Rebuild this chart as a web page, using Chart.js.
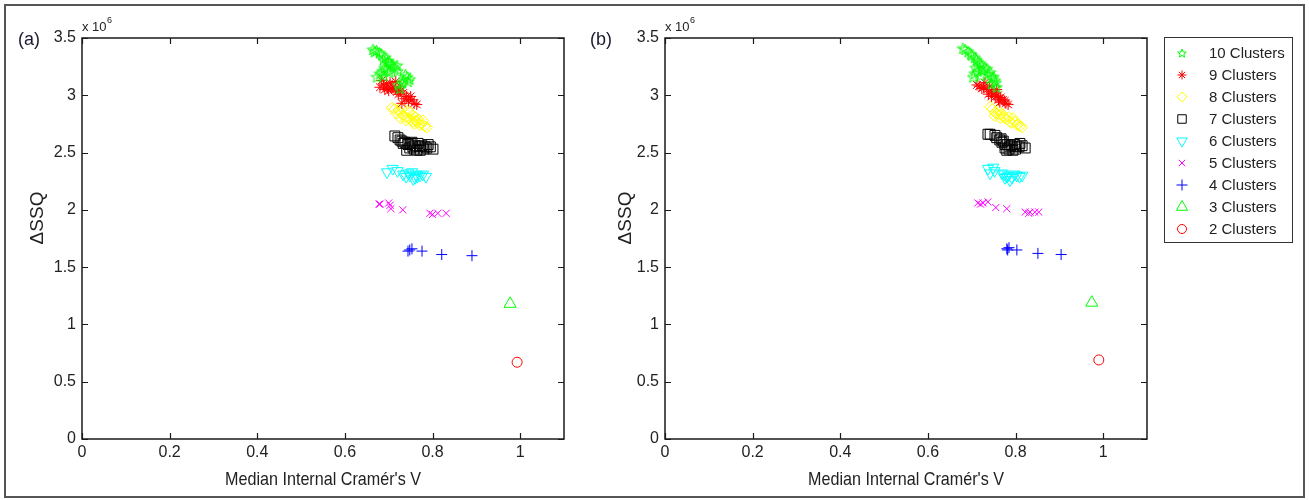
<!DOCTYPE html>
<html>
<head>
<meta charset="utf-8">
<title>Delta SSQ vs Median Internal Cramér's V</title>
<script src="https://cdn.jsdelivr.net/npm/chart.js@4.4.0/dist/chart.umd.min.js"></script>
<style>
  html, body { margin: 0; padding: 0; background: #fff; }
  #wrap { position: relative; width: 1309px; height: 500px; }
  #wrap canvas { position: absolute; left: 0; top: 0; }
</style>
</head>
<body>
<div id="wrap">
  <canvas id="chartA" width="1309" height="500"></canvas>
  <canvas id="chartB" width="1309" height="500"></canvas>
</div>
<script>
// ---- data: [median internal Cramer's V, delta SSQ (x 10^6)] ----
const clusterLabels = ['10 Clusters', '9 Clusters', '8 Clusters', '7 Clusters', '6 Clusters',
                       '5 Clusters', '4 Clusters', '3 Clusters', '2 Clusters']
const clusterColors = ['#00ff00', '#ff0000', '#ffff00', '#000000', '#00ffff',
                       '#ff00ff', '#0000ff', '#00ff00', '#ff0000']

const xTicks = [0, 0.2, 0.4, 0.6, 0.8, 1]
const yTicks = [0, 0.5, 1, 1.5, 2, 2.5, 3, 3.5]

// panel (a)
const a10 = [[0.664,3.40],[0.672,3.39],[0.685,3.35],[0.688,3.31],[0.697,3.29],[0.703,3.28],[0.71,3.25],
             [0.719,3.26],[0.696,3.22],[0.68,3.19],[0.673,3.16],[0.742,3.16],[0.744,3.12],[0.726,3.06],
             [0.735,3.14],[0.69,3.24],[0.668,3.38],[0.679,3.37],[0.692,3.33],[0.700,3.30],[0.707,3.27],
             [0.714,3.23],[0.72,3.21],[0.701,3.20],[0.688,3.17],[0.685,3.21],[0.738,3.18],[0.748,3.14],
             [0.731,3.11],[0.722,3.09]]
const a9 = [[0.68,3.07],[0.691,3.05],[0.684,3.13],[0.703,3.11],[0.71,3.07],[0.719,3.03],[0.733,3.02],
            [0.741,2.99],[0.73,2.93],[0.753,2.96],[0.764,2.92],[0.70,3.04],[0.725,3.08],[0.688,3.09],
            [0.695,3.10],[0.707,3.06],[0.715,3.05],[0.722,3.01],[0.737,2.97],[0.745,2.95],[0.75,2.99],
            [0.758,2.93],[0.727,3.04],[0.697,3.06],[0.716,3.12]]
const a8 = [[0.707,2.89],[0.722,2.87],[0.73,2.89],[0.733,2.83],[0.744,2.80],[0.756,2.77],[0.76,2.81],
            [0.771,2.74],[0.778,2.78],[0.787,2.72],[0.748,2.85],[0.765,2.76],[0.739,2.78],[0.713,2.88],
            [0.718,2.84],[0.727,2.85],[0.737,2.81],[0.75,2.79],[0.754,2.83],[0.762,2.78],[0.768,2.79],
            [0.775,2.75],[0.782,2.73],[0.744,2.87],[0.758,2.75],[0.727,2.80]]
const a7 = [[0.714,2.645],[0.726,2.61],[0.733,2.58],[0.744,2.57],[0.755,2.55],[0.771,2.55],[0.783,2.55],
            [0.801,2.53],[0.79,2.57],[0.753,2.59],[0.767,2.58],[0.741,2.52],[0.764,2.52],[0.73,2.60],
            [0.737,2.59],[0.749,2.58],[0.76,2.56],[0.776,2.56],[0.787,2.54],[0.758,2.53],[0.748,2.54],
            [0.772,2.52],[0.78,2.53],[0.795,2.55],[0.721,2.63]]
const a6 = [[0.696,2.33],[0.709,2.36],[0.733,2.31],[0.748,2.30],[0.76,2.28],[0.771,2.30],[0.785,2.29],
            [0.753,2.33],[0.72,2.34],[0.74,2.29],[0.756,2.27],[0.765,2.29],[0.778,2.31],[0.745,2.32],
            [0.762,2.31]]
const a5 = [[0.678,2.05],[0.70,2.06],[0.705,2.01],[0.732,2.00],[0.794,1.97],[0.812,1.97],[0.831,1.97],
            [0.80,1.96],[0.68,2.05],[0.703,2.04]]
const a4 = [[0.744,1.64],[0.753,1.66],[0.776,1.64],[0.821,1.61],[0.89,1.60],[0.748,1.65]]
const a3 = [[0.977,1.18]]
const a2 = [[0.993,0.67]]

// panel (b)
const b10 = [[0.68,3.41],[0.692,3.38],[0.707,3.33],[0.714,3.29],[0.723,3.26],[0.73,3.24],[0.707,3.19],
             [0.742,3.20],[0.753,3.13],[0.757,3.07],[0.703,3.16],[0.746,3.16],[0.685,3.40],[0.698,3.36],
             [0.711,3.31],[0.719,3.28],[0.726,3.22],[0.714,3.21],[0.735,3.23],[0.738,3.18],[0.75,3.16],
             [0.72,3.17],[0.709,3.24],[0.745,3.10],[0.755,3.11],[0.70,3.35]]
const b9 = [[0.712,3.09],[0.723,3.06],[0.73,3.11],[0.746,3.03],[0.76,3.00],[0.771,2.96],[0.783,2.92],
            [0.764,2.94],[0.757,3.05],[0.717,3.08],[0.727,3.07],[0.735,3.05],[0.741,3.08],[0.751,3.02],
            [0.755,2.99],[0.766,2.98],[0.775,2.95],[0.778,2.93],[0.738,3.01],[0.745,2.99],[0.761,2.96]]
const b8 = [[0.742,2.90],[0.753,2.85],[0.764,2.83],[0.776,2.80],[0.787,2.77],[0.803,2.74],[0.815,2.72],
            [0.76,2.87],[0.794,2.80],[0.747,2.88],[0.757,2.84],[0.769,2.84],[0.772,2.81],[0.781,2.79],
            [0.79,2.76],[0.798,2.77],[0.806,2.75],[0.81,2.73],[0.785,2.81],[0.765,2.80],[0.752,2.82]]
const b7 = [[0.737,2.66],[0.753,2.65],[0.764,2.61],[0.776,2.57],[0.787,2.55],[0.803,2.55],[0.822,2.54],
            [0.81,2.58],[0.78,2.52],[0.794,2.52],[0.742,2.66],[0.757,2.63],[0.769,2.59],[0.772,2.60],
            [0.782,2.57],[0.79,2.56],[0.798,2.57],[0.808,2.55],[0.815,2.56],[0.785,2.53],[0.8,2.53],
            [0.776,2.54],[0.767,2.62]]
const b6 = [[0.737,2.36],[0.749,2.37],[0.742,2.32],[0.769,2.32],[0.78,2.29],[0.787,2.26],[0.803,2.30],
            [0.815,2.30],[0.752,2.34],[0.774,2.31],[0.784,2.30],[0.792,2.28],[0.798,2.31],[0.776,2.28],
            [0.809,2.29]]
const b5 = [[0.714,2.06],[0.726,2.06],[0.737,2.07],[0.755,2.02],[0.78,2.01],[0.822,1.98],[0.833,1.98],
            [0.844,1.98],[0.853,1.98],[0.72,2.05],[0.83,1.97]]
const b4 = [[0.78,1.66],[0.785,1.67],[0.803,1.65],[0.851,1.62],[0.904,1.61],[0.782,1.65]]
const b3 = [[0.974,1.19]]
const b2 = [[0.99,0.69]]

const panelA = [a10, a9, a8, a7, a6, a5, a4, a3, a2]
const panelB = [b10, b9, b8, b7, b6, b5, b4, b3, b2]

const FONT = "'Liberation Sans', Arial, sans-serif"

// MATLAB style pentagram, not built into Chart.js
function makePentagram(color, size) {
    let c = document.createElement('canvas')
    c.width = size
    c.height = size
    let ctx = c.getContext('2d')
    let cx = size / 2, cy = size / 2 + 0.5
    let R = size / 2 - 0.5, r = R * 0.42
    ctx.beginPath()
    for (let i = 0; i < 10; i++) {
        let ang = -Math.PI / 2 + i * Math.PI / 5
        let rad = i % 2 == 0 ? R : r
        ctx.lineTo(cx + rad * Math.cos(ang), cy + rad * Math.sin(ang))
    }
    ctx.closePath()
    ctx.strokeStyle = color
    ctx.lineWidth = 1
    ctx.stroke()
    return c
}

const markers = [
    { style: makePentagram('#00ff00', 13), radius: 6, rotation: 0 },
    { style: 'star', radius: 5.5, rotation: 0 },
    { style: 'rectRot', radius: 5.5, rotation: 0 },
    { style: 'rect', radius: 7, rotation: 0 },
    { style: 'triangle', radius: 6.5, rotation: 180 },
    { style: 'crossRot', radius: 5, rotation: 0 },
    { style: 'cross', radius: 5.5, rotation: 0 },
    { style: 'triangle', radius: 7, rotation: 0 },
    { style: 'circle', radius: 5, rotation: 0 }
]
const legendMarkers = [
    { style: makePentagram('#00ff00', 10), radius: 5, rotation: 0 },
    { style: 'star', radius: 4.5, rotation: 0 },
    { style: 'rectRot', radius: 5, rotation: 0 },
    { style: 'rect', radius: 6, rotation: 0 },
    { style: 'triangle', radius: 6, rotation: 180 },
    { style: 'crossRot', radius: 4.5, rotation: 0 },
    { style: 'cross', radius: 5.5, rotation: 0 },
    { style: 'triangle', radius: 6.5, rotation: 0 },
    { style: 'circle', radius: 4.5, rotation: 0 }
]

function makeDatasets(panel) {
    return panel.map((pts, i) => ({
        label: clusterLabels[i],
        data: pts.map(p => ({ x: p[0], y: p[1] })),
        pointStyle: markers[i].style,
        pointRadius: markers[i].radius,
        pointRotation: markers[i].rotation,
        pointBorderColor: clusterColors[i],
        pointBackgroundColor: 'rgba(0,0,0,0)',
        pointBorderWidth: 1,
        showLine: false,
        order: 10 - (9 - i) // 10 clusters at the bottom, 2 clusters on top
    }))
}

function fmt(v) {
    return Number(v.toFixed(1)).toString()
}

// box, inward ticks, titles and panel letter
const framePlugin = {
    id: 'frame',
    afterDraw(chart, args, opts) {
        let ctx = chart.ctx
        let area = chart.chartArea
        let xs = chart.scales.x
        let ys = chart.scales.y
        ctx.save()
        ctx.strokeStyle = '#1a1a1a'
        ctx.lineWidth = 1.5
        ctx.strokeRect(area.left, area.top, area.right - area.left, area.bottom - area.top)
        ctx.lineWidth = 1.2
        ctx.beginPath()
        xTicks.forEach(v => {
            let px = Math.round(xs.getPixelForValue(v)) + 0.5
            ctx.moveTo(px, area.bottom); ctx.lineTo(px, area.bottom - 6)
            ctx.moveTo(px, area.top); ctx.lineTo(px, area.top + 6)
        })
        yTicks.forEach(v => {
            let py = Math.round(ys.getPixelForValue(v)) + 0.5
            ctx.moveTo(area.left, py); ctx.lineTo(area.left + 6, py)
            ctx.moveTo(area.right, py); ctx.lineTo(area.right - 6, py)
        })
        ctx.stroke()

        ctx.fillStyle = '#222'
        // x 10^6 exponent label
        ctx.textBaseline = 'alphabetic'
        ctx.textAlign = 'left'
        ctx.font = '13px ' + FONT
        ctx.fillText('x 10', area.left, 31)
        let w = ctx.measureText('x 10').width
        ctx.font = '9px ' + FONT
        ctx.fillText('6', area.left + w + 0.5, 23)

        // y title
        ctx.save()
        ctx.translate(opts.yTitleX, 218)
        ctx.rotate(-Math.PI / 2)
        ctx.textAlign = 'center'
        ctx.textBaseline = 'middle'
        ctx.font = '19px ' + FONT
        ctx.fillText('\u0394SSQ', 0, 0)
        ctx.restore()

        // x title, MATLAB's font is narrow
        ctx.save()
        ctx.translate((area.left + area.right) / 2, 480)
        ctx.scale(0.85, 1)
        ctx.textAlign = 'center'
        ctx.textBaseline = 'middle'
        ctx.font = '19px ' + FONT
        ctx.fillText("Median Internal Cram\u00e9r's V", 0, 0)
        ctx.restore()

        // panel letter
        ctx.textAlign = 'left'
        ctx.textBaseline = 'middle'
        ctx.font = '18px ' + FONT
        ctx.fillStyle = '#1a1a30'
        ctx.fillText(opts.letter, opts.letterX, 40)
        ctx.restore()
    }
}

// outer figure border and the legend box (drawn once, on panel b)
const legendPlugin = {
    id: 'figLegend',
    afterDraw(chart) {
        let ctx = chart.ctx
        ctx.save()
        ctx.strokeStyle = '#555'
        ctx.lineWidth = 2
        ctx.strokeRect(5, 5, 1299, 492)

        ctx.strokeStyle = '#333'
        ctx.lineWidth = 1
        ctx.strokeRect(1164.5, 37.5, 128, 205)

        let drawPoint = Chart.helpers.drawPoint
        clusterLabels.forEach((lab, i) => {
            let y = 53 + i * 22
            ctx.strokeStyle = clusterColors[i]
            ctx.fillStyle = 'rgba(0,0,0,0)'
            ctx.lineWidth = 1
            drawPoint(ctx, {
                pointStyle: legendMarkers[i].style,
                radius: legendMarkers[i].radius,
                rotation: legendMarkers[i].rotation,
                borderWidth: 1
            }, 1182, y)
            ctx.fillStyle = '#222'
            ctx.font = '15px ' + FONT
            ctx.textAlign = 'left'
            ctx.textBaseline = 'middle'
            ctx.fillText(lab, 1209, y + 1)
        })
        ctx.restore()
    }
}

function makeConfig(panel, padLeft, padRight, letter, letterX, yTitleX) {
    return {
        type: 'scatter',
        data: { datasets: makeDatasets(panel) },
        options: {
            responsive: false,
            animation: false,
            events: [],
            layout: { padding: { left: padLeft, right: padRight, top: 38, bottom: 31 } },
            plugins: {
                legend: { display: false },
                tooltip: { enabled: false },
                frame: { letter: letter, letterX: letterX, yTitleX: yTitleX }
            },
            scales: {
                x: {
                    type: 'linear',
                    min: 0,
                    max: 1.1,
                    afterFit: s => { s.height = 30 },
                    grid: { display: false, drawTicks: false },
                    border: { display: false },
                    ticks: {
                        stepSize: 0.2,
                        includeBounds: false,
                        padding: 4,
                        color: '#222',
                        font: { family: FONT, size: 16 },
                        callback: v => fmt(v)
                    }
                },
                y: {
                    type: 'linear',
                    min: 0,
                    max: 3.5,
                    afterFit: s => { s.width = 72 },
                    grid: { display: false, drawTicks: false },
                    border: { display: false },
                    ticks: {
                        stepSize: 0.5,
                        padding: 6,
                        color: '#222',
                        font: { family: FONT, size: 16 },
                        callback: v => fmt(v)
                    }
                }
            }
        },
        plugins: [framePlugin]
    }
}

let chartA = new Chart(document.getElementById('chartA'),
    makeConfig(panelA, 10, 745, '(a)', 18, 38))

let cfgB = makeConfig(panelB, 593, 162, '(b)', 590, 626)
cfgB.plugins.push(legendPlugin)
let chartB = new Chart(document.getElementById('chartB'), cfgB)
</script>
</body>
</html>
